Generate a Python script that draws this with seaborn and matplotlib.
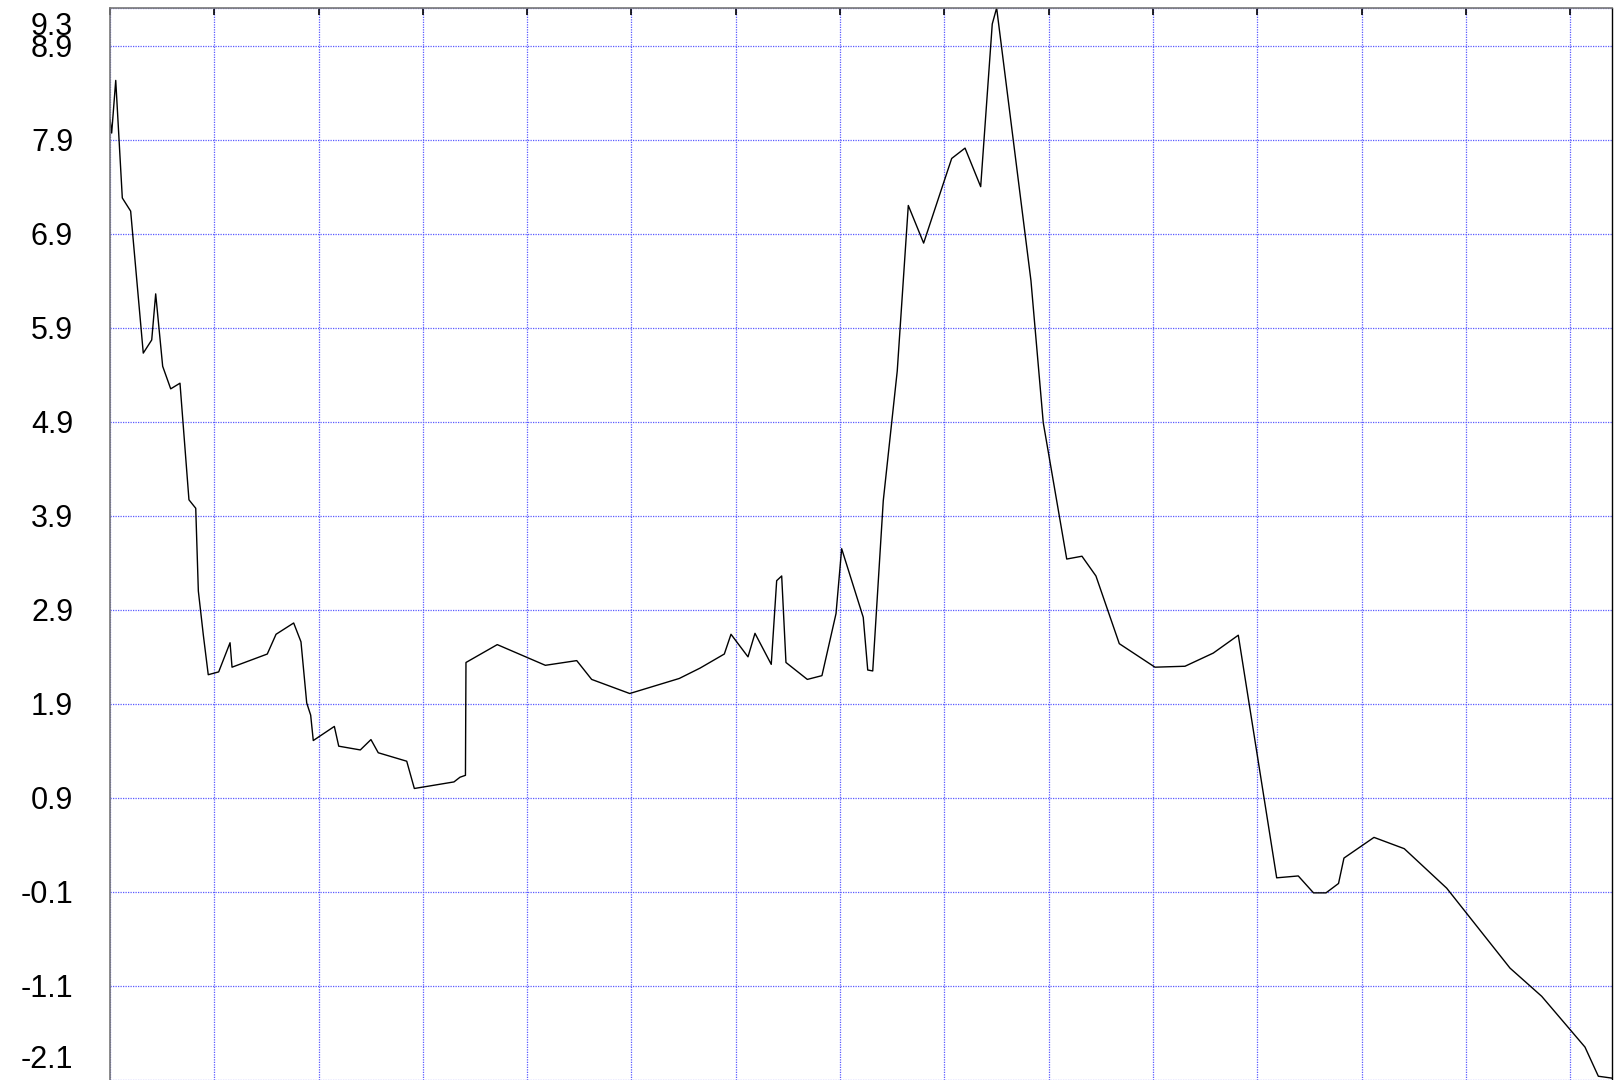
import numpy as np
import pandas as pd
import matplotlib
matplotlib.use("Agg")
import matplotlib.pyplot as plt
from matplotlib.ticker import FixedLocator, NullFormatter
from matplotlib.transforms import ScaledTranslation
import seaborn as sns

# Series: position along the horizontal axis (grid units) and value
x_pos = [
    0.000, 0.016, 0.055, 0.118, 0.198, 0.319, 0.400, 0.438, 0.505, 0.582,
    0.671, 0.757, 0.822, 0.847, 0.895, 0.942, 1.042, 1.151, 1.170, 1.508,
    1.592, 1.761, 1.831, 1.886, 1.924, 1.949, 2.151, 2.193, 2.400, 2.502,
    2.572, 2.845, 2.918, 3.298, 3.356, 3.408, 3.413, 3.713, 4.174, 4.475,
    4.618, 4.983, 5.458, 5.657, 5.890, 5.954, 6.117, 6.184, 6.340, 6.392,
    6.440, 6.481, 6.686, 6.826, 6.961, 7.015, 7.222, 7.265, 7.313, 7.414,
    7.548, 7.654, 7.801, 7.989, 8.070, 8.198, 8.348, 8.459, 8.501, 8.830,
    8.948, 9.173, 9.319, 9.453, 9.677, 10.019, 10.307, 10.578, 10.818, 11.186,
    11.393, 11.539, 11.659, 11.779, 11.831, 12.119, 12.409, 12.816, 13.423, 13.727,
    14.142, 14.270, 14.401,
]
values = [
    8.12, 7.97, 8.53, 7.28, 7.14, 5.63, 5.77, 6.26, 5.49, 5.25,
    5.31, 4.07, 3.98, 3.10, 2.63, 2.21, 2.24, 2.55, 2.29, 2.43,
    2.64, 2.76, 2.56, 1.91, 1.78, 1.51, 1.66, 1.45, 1.41, 1.52,
    1.38, 1.29, 1.00, 1.07, 1.12, 1.14, 2.34, 2.53, 2.31, 2.36,
    2.16, 2.01, 2.17, 2.28, 2.43, 2.64, 2.40, 2.65, 2.32, 3.21,
    3.26, 2.34, 2.16, 2.20, 2.86, 3.55, 2.82, 2.26, 2.25, 4.06,
    5.44, 7.20, 6.80, 7.43, 7.70, 7.81, 7.40, 9.13, 9.30, 6.40,
    4.89, 3.44, 3.47, 3.26, 2.54, 2.29, 2.30, 2.44, 2.63, 0.05,
    0.07, -0.11, -0.11, -0.01, 0.26, 0.48, 0.36, -0.06, -0.91, -1.21,
    -1.75, -2.06, -2.08,
]

# Axis ticks
y_ticks = [-2.1, -1.1, -0.1, 0.9, 1.9, 2.9, 3.9, 4.9, 5.9, 6.9, 7.9, 8.9, 9.3]
y_tick_labels = ["-2.1", "-1.1", "-0.1", "0.9", "1.9", "2.9", "3.9", "4.9",
                 "5.9", "6.9", "7.9", "8.9", "9.3"]
x_grid = list(range(0, 15))

df = pd.DataFrame({"x": x_pos, "value": values})

sns.set_theme(style="white")
plt.rcParams["font.family"] = ["Liberation Sans", "DejaVu Sans"]

fig = plt.figure(figsize=(16.18, 10.80), dpi=100)
ax = fig.add_axes([110 / 1618, 0.0, 1502 / 1618, 1072 / 1080])

sns.lineplot(data=df, x="x", y="value", ax=ax, color="black",
             linewidth=1.0, estimator=None, sort=False)

ax.set_xlim(0, 14.401)
ax.set_ylim(-2.1, 9.3)

# grid
ax.xaxis.set_major_locator(FixedLocator(x_grid))
ax.xaxis.set_major_formatter(NullFormatter())
ax.set_yticks(y_ticks)
ax.set_yticklabels(y_tick_labels)
ax.grid(True, color="#5a5aff", linestyle=(0, (1, 1)), linewidth=0.9)

ax.tick_params(axis="y", which="both", left=False, right=False, length=0,
               pad=26.5, labelsize=22, labelcolor="black")
ax.tick_params(axis="x", which="both", bottom=False, top=True, direction="in",
               length=5, width=1.2, color="black", labelbottom=False,
               labeltop=False)

# keep the end labels inside the figure
labels = ax.get_yticklabels()
labels[0].set_va("center")
labels[0].set_transform(labels[0].get_transform()
                        + ScaledTranslation(0, 20 / 100, fig.dpi_scale_trans))
labels[-1].set_va("center")
labels[-1].set_transform(labels[-1].get_transform()
                         + ScaledTranslation(0, -19 / 100, fig.dpi_scale_trans))

ax.set_xlabel("")
ax.set_ylabel("")

for side in ("left", "top"):
    ax.spines[side].set_color("#777777")
    ax.spines[side].set_linewidth(1.2)
ax.spines["right"].set_color("black")
ax.spines["right"].set_linewidth(1.0)
ax.spines["bottom"].set_visible(False)

fig.savefig("out.png", dpi=100, facecolor="white")
